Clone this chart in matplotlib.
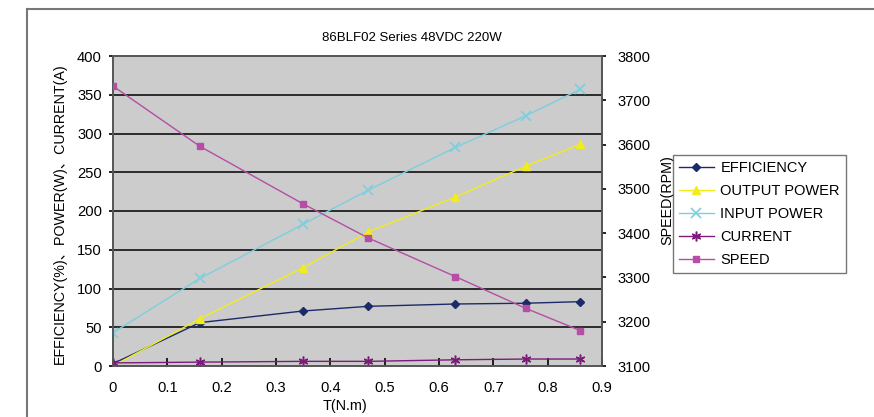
import matplotlib
matplotlib.use("Agg")
import matplotlib.pyplot as plt
from matplotlib.lines import Line2D

FONT = ["Liberation Sans", "Noto Sans CJK SC", "DejaVu Sans"]
plt.rcParams.update({"font.family": FONT, "font.size": 10.6})

# --- data --------------------------------------------------------------------------
torque = [0.0, 0.16, 0.35, 0.47, 0.63, 0.76, 0.86]          # T (N.m)
efficiency = [3, 56, 71, 77, 80, 81, 83]                    # %
output_power = [0, 61, 127, 173, 218, 258, 286]             # W
input_power = [43, 113, 183, 227, 282, 323, 357]            # W
current = [4, 5, 6, 6, 8, 9, 9]                             # A
speed = [3732, 3596, 3466, 3389, 3302, 3230, 3180]          # RPM

left_ticks = [0, 50, 100, 150, 200, 250, 300, 350, 400]
right_ticks = [3100, 3200, 3300, 3400, 3500, 3600, 3700, 3800]
x_ticks = [0, 0.1, 0.2, 0.3, 0.4, 0.5, 0.6, 0.7, 0.8, 0.9]

NAVY, YELLOW, CYAN, PURPLE, PINK = "#1C2B68", "#F0EC1E", "#7DCFDF", "#7B1C7A", "#B64DA6"
BG, FRAME = "#CBCCCB", "#555555"

fig = plt.figure(figsize=(8.74, 4.17), dpi=100)
ax = fig.add_axes([113 / 874, 1 - 366 / 417, (602 - 113) / 874, (366 - 56) / 417])
ax.set_facecolor(BG)
ax.set_xlim(0, 0.9)
ax.set_ylim(0, 400)
ax.set_xticks(x_ticks)
ax.set_xticklabels(["0" if t == 0 else f"{t:.1f}" for t in x_ticks])
ax.set_yticks(left_ticks)
for y in left_ticks[1:-1]:
    ax.axhline(y, color="black", lw=1.1, zorder=1)
for s in ax.spines.values():
    s.set_color(FRAME)
    s.set_linewidth(1.2)
ax.tick_params(axis="x", direction="in", length=6, width=1.2, color="black", pad=11)
ax.tick_params(axis="y", direction="out", length=3, width=1.2, color="black", pad=5)

ax.plot(torque, efficiency, color=NAVY, lw=1, marker="D", ms=4.5, zorder=4, label="EFFICIENCY")
ax.plot(torque, output_power, color=YELLOW, lw=1, marker="^", ms=6, zorder=4, label="OUTPUT POWER")
ax.plot(torque, input_power, color=CYAN, lw=1, marker="x", ms=7, mew=1.2, zorder=4, label="INPUT POWER")
ax.plot(torque, current, color=PURPLE, lw=1, marker=(6, 2, 0), ms=7, mew=1.1, zorder=4, label="CURRENT")

ax2 = ax.twinx()
ax2.set_ylim(3100, 3800)
ax2.set_yticks(right_ticks)
ax2.tick_params(axis="y", direction="out", length=3, width=1.2, color="black", pad=8)
for s in ax2.spines.values():
    s.set_color(FRAME)
    s.set_linewidth(1.2)
ax2.plot(torque, speed, color=PINK, lw=1, marker="s", ms=5, zorder=4, label="SPEED")

ax.set_xlabel("T(N.m)", fontsize=10.4)
ax.xaxis.set_label_coords((345 - 113) / (602 - 113), -0.108)
ax.set_ylabel("EFFICIENCY(%)、POWER(W)、CURRENT(A)", fontsize=10.3)
ax.yaxis.set_label_coords((67 - 113) / (602 - 113), 0.49)
ax2.set_ylabel("SPEED(RPM)", fontsize=10.4)
ax2.yaxis.set_label_coords((660 - 113) / (602 - 113), 0.535)
fig.text(412 / 874, 1 - 38 / 417, "86BLF02 Series 48VDC 220W", ha="center", va="center", fontsize=9.5)

h1, l1 = ax.get_legend_handles_labels()
h2, l2 = ax2.get_legend_handles_labels()
leg = fig.legend(h1 + h2, l1 + l2, loc="upper left", bbox_to_anchor=(673 / 874, 1 - 155 / 417),
                 bbox_transform=fig.transFigure, borderaxespad=0, fancybox=False, frameon=True,
                 edgecolor=FRAME, handlelength=2.4, labelspacing=0.62, handletextpad=0.45,
                 borderpad=0.4, fontsize=10.5)
leg.get_frame().set_linewidth(1.0)

# outer chart border (runs off the right and bottom of the crop)
fig.add_artist(Line2D([27 / 874, 1], [1 - 9 / 417] * 2, transform=fig.transFigure, color="#777777", lw=1.5))
fig.add_artist(Line2D([27 / 874] * 2, [0, 1 - 9 / 417], transform=fig.transFigure, color="#777777", lw=1.5))

fig.savefig("out.png", dpi=100)
